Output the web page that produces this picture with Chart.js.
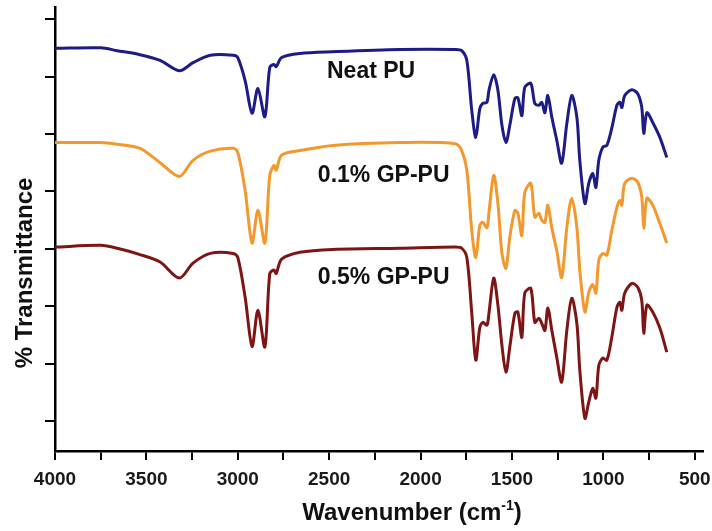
<!DOCTYPE html>
<html>
<head>
<meta charset="utf-8">
<script src="https://cdn.jsdelivr.net/npm/chart.js@4.4.1/dist/chart.umd.min.js"></script>
<style>
  html, body { margin: 0; padding: 0; background: #fff; }
  #wrap { width: 712px; height: 531px; position: relative; }
</style>
</head>
<body>
<div id="wrap"><canvas id="ftirChart"></canvas></div>
<script>
// wavenumbers (cm-1) shared by the three spectra
const wavenumbers = [4000, 3750, 3660, 3535, 3425, 3320, 3245, 3150, 3025, 3000, 2960, 2922, 2890, 2852, 2825, 2802, 2790, 2760, 2660, 2480, 2115, 1810, 1775, 1747, 1720, 1698, 1676, 1660, 1637, 1626, 1600, 1577, 1555, 1533, 1512, 1484, 1468, 1446, 1430, 1397, 1375, 1353, 1337, 1320, 1304, 1282, 1255, 1228, 1200, 1173, 1145, 1129, 1101, 1080, 1058, 1041, 1025, 1003, 981, 954, 926, 910, 899, 883, 844, 812, 790, 779, 762, 730, 691, 653];

// % transmittance (stacked, arbitrary offset)
const neatPU = [74.9, 75.0, 74.5, 73.8, 72.8, 71.0, 72.4, 73.7, 73.7, 73.3, 69.3, 63.6, 67.9, 63.0, 71.6, 72.1, 71.7, 73.3, 74.0, 74.3, 74.7, 74.7, 74.5, 72.8, 64.1, 59.4, 64.4, 65.3, 65.5, 67.6, 70.3, 67.6, 61.5, 58.5, 61.5, 66.2, 66.3, 63.2, 68.1, 68.8, 65.3, 65.0, 65.5, 63.7, 66.7, 62.9, 58.9, 54.9, 61.8, 66.7, 62.9, 55.4, 47.9, 51.4, 53.1, 50.7, 55.4, 57.7, 58.0, 61.0, 65.0, 65.5, 64.6, 66.7, 67.7, 67.0, 64.6, 60.1, 63.7, 62.0, 59.4, 55.9];
const gp01 = [58.5, 58.5, 58.2, 57.5, 55.0, 52.6, 55.4, 57.0, 57.5, 56.8, 50.2, 41.0, 46.7, 41.0, 52.8, 54.5, 53.7, 56.3, 57.1, 58.0, 58.5, 58.3, 57.1, 53.7, 43.2, 38.5, 44.1, 44.6, 43.7, 46.3, 52.8, 47.9, 39.2, 36.6, 42.0, 46.7, 46.2, 42.3, 49.8, 51.4, 45.5, 46.2, 45.0, 44.6, 47.6, 43.6, 39.7, 35.0, 43.7, 48.8, 43.7, 36.3, 29.0, 32.4, 33.8, 32.3, 38.0, 39.2, 38.9, 43.2, 47.2, 48.4, 47.6, 51.4, 52.3, 51.6, 49.0, 43.6, 48.8, 47.6, 44.4, 41.0];
const gp05 = [40.3, 40.6, 40.1, 39.0, 37.7, 34.9, 37.5, 39.2, 39.2, 38.5, 31.6, 23.0, 29.3, 22.9, 35.7, 36.3, 35.7, 38.2, 39.4, 39.9, 40.1, 40.3, 40.1, 38.5, 28.8, 20.6, 26.3, 27.2, 26.7, 28.8, 34.9, 30.2, 23.2, 18.5, 22.9, 28.8, 29.0, 24.6, 32.3, 33.1, 27.2, 27.9, 27.0, 25.8, 29.7, 25.8, 21.1, 16.8, 25.8, 31.4, 27.0, 18.9, 10.5, 13.3, 15.7, 14.0, 19.7, 21.0, 20.6, 24.6, 29.8, 30.7, 29.3, 32.3, 34.0, 33.3, 31.0, 25.3, 30.2, 29.0, 26.2, 22.0];

// axis ticks
const xTicks = [4000, 3750, 3500, 3250, 3000, 2750, 2500, 2250, 2000, 1750, 1500, 1250, 1000, 750, 500];
const xTickLabels = ['4000', '', '3500', '', '3000', '', '2500', '', '2000', '', '1500', '', '1000', '', '500'];
const yTicks = [10, 20, 30, 40, 50, 60, 70, 80];

// curve labels
const labelNames = ['Neat PU', '0.1% GP-PU', '0.5% GP-PU'];
const labelX = [2512, 2562, 2562];
const labelY = [70.9, 52.8, 34.9];

function toPoints(ys) {
  return wavenumbers.map((w, i) => ({ x: w, y: ys[i] }));
}

const FONT = '"Liberation Sans", Arial, sans-serif';

const textPlugin = {
  id: 'textPlugin',
  afterDraw(chart) {
    const ctx = chart.ctx;
    const xs = chart.scales.x, ys = chart.scales.y;
    ctx.save();
    ctx.fillStyle = '#111';
    // curve labels
    ctx.font = 'bold 23px ' + FONT;
    ctx.textAlign = 'left';
    ctx.textBaseline = 'middle';
    labelNames.forEach((t, i) => {
      ctx.fillText(t, xs.getPixelForValue(labelX[i]), ys.getPixelForValue(labelY[i]));
    });
    // x title with superscript
    ctx.textBaseline = 'alphabetic';
    ctx.font = 'bold 24px ' + FONT;
    const part1 = 'Wavenumber (cm';
    const w1 = ctx.measureText(part1).width;
    ctx.font = 'bold 14px ' + FONT;
    const w2 = ctx.measureText('-1').width;
    ctx.font = 'bold 24px ' + FONT;
    const w3 = ctx.measureText(')').width;
    const x0 = 412 - (w1 + w2 + w3) / 2;
    const base = 520;
    ctx.fillText(part1, x0, base);
    ctx.font = 'bold 14px ' + FONT;
    ctx.fillText('-1', x0 + w1, base - 10);
    ctx.font = 'bold 24px ' + FONT;
    ctx.fillText(')', x0 + w1 + w2, base);
    // y title
    ctx.translate(32, 273);
    ctx.rotate(-Math.PI / 2);
    ctx.textAlign = 'center';
    ctx.fillText('% Transmittance', 0, 0);
    ctx.restore();
  }
};

const ctxFtir = document.getElementById('ftirChart').getContext('2d');
new Chart(ctxFtir, {
  type: 'line',
  data: {
    datasets: [
      { label: 'Neat PU', data: toPoints(neatPU), borderColor: '#1c1c84', borderWidth: 3 },
      { label: '0.1% GP-PU', data: toPoints(gp01), borderColor: '#f2982c', borderWidth: 3 },
      { label: '0.5% GP-PU', data: toPoints(gp05), borderColor: '#7d1515', borderWidth: 3 }
    ]
  },
  options: {
    responsive: true,
    maintainAspectRatio: false,
    animation: false,
    layout: { padding: { left: 0, right: 9, top: 7, bottom: 0 } },
    elements: {
      point: { radius: 0 },
      line: { tension: 0.3, fill: false }
    },
    plugins: {
      legend: { display: false },
      tooltip: { enabled: false }
    },
    scales: {
      x: {
        type: 'linear',
        reverse: true,
        min: 455,
        max: 4000,
        afterBuildTicks(scale) { scale.ticks = xTicks.map(v => ({ value: v })); },
        afterFit(scale) {
          scale.height = 80;
          scale.paddingLeft = 0;
          scale.paddingRight = 0;
        },
        border: { display: true, color: '#000', width: 2.5 },
        grid: { drawOnChartArea: false, drawTicks: true, tickLength: 9, color: '#000', lineWidth: 2 },
        ticks: {
          autoSkip: false,
          maxRotation: 0,
          padding: 8,
          color: '#1a1a1a',
          font: { family: FONT, size: 19, weight: 'bold' },
          callback: (v, i) => xTickLabels[xTicks.indexOf(v)]
        }
      },
      y: {
        min: 4.8,
        max: 82.1,
        afterBuildTicks(scale) { scale.ticks = yTicks.map(v => ({ value: v })); },
        afterFit(scale) {
          scale.width = 55;
          scale.paddingTop = 0;
          scale.paddingBottom = 0;
        },
        border: { display: true, color: '#000', width: 2.5 },
        grid: { drawOnChartArea: false, drawTicks: true, tickLength: 10, color: '#000', lineWidth: 2 },
        ticks: { display: false }
      }
    }
  },
  plugins: [textPlugin]
});
</script>
</body>
</html>
